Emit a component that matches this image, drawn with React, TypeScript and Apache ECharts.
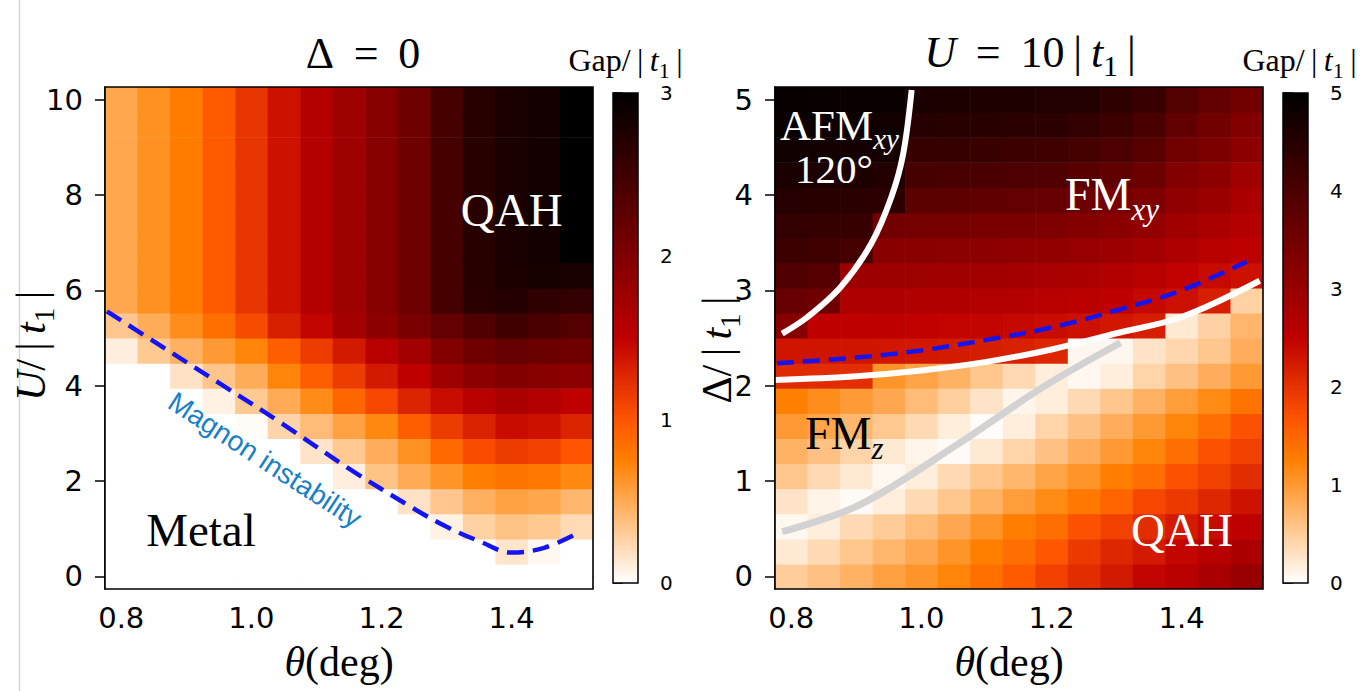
import React, { useEffect, useRef } from "react";
import * as echarts from "echarts";

// ---------- data ----------
const THETA = [0.8, 0.85, 0.9, 0.95, 1.0, 1.05, 1.1, 1.15, 1.2, 1.25, 1.3, 1.35, 1.4, 1.45, 1.5];
const U_ROWS = [0, 0.526, 1.053, 1.579, 2.105, 2.632, 3.158, 3.684, 4.211, 4.737, 5.263, 5.789, 6.316, 6.842, 7.368, 7.895, 8.421, 8.947, 9.474, 10];
const DELTA_ROWS = [0, 0.263, 0.526, 0.789, 1.053, 1.316, 1.579, 1.842, 2.105, 2.368, 2.632, 2.895, 3.158, 3.421, 3.684, 3.947, 4.211, 4.474, 4.737, 5];

// Gap/|t1| for Delta = 0 ; rows = U_ROWS (bottom to top), columns = THETA
const GAP_LEFT = [
  [0, 0, 0, 0, 0, 0, 0, 0, 0, 0, 0, 0, 0, 0, 0],
  [0, 0, 0, 0, 0, 0, 0, 0, 0, 0, 0, 0, 0.15, 0.04, 0],
  [0, 0, 0, 0, 0, 0, 0, 0, 0, 0, 0.08, 0.27, 0.36, 0.32, 0.22],
  [0, 0, 0, 0, 0, 0, 0, 0, 0, 0.17, 0.33, 0.47, 0.55, 0.53, 0.43],
  [0, 0, 0, 0, 0, 0, 0, 0.1, 0.36, 0.5, 0.63, 0.76, 0.82, 0.79, 0.7],
  [0, 0, 0, 0, 0, 0, 0.16, 0.32, 0.48, 0.65, 0.88, 1.05, 1.15, 1.12, 1.0],
  [0, 0, 0, 0, 0.02, 0.25, 0.4, 0.55, 0.7, 0.95, 1.15, 1.3, 1.43, 1.4, 1.28],
  [0, 0, 0, 0.08, 0.32, 0.5, 0.68, 0.9, 1.08, 1.28, 1.43, 1.56, 1.67, 1.6, 1.5],
  [0, 0, 0.17, 0.34, 0.49, 0.72, 0.95, 1.15, 1.35, 1.5, 1.75, 1.9, 1.98, 1.94, 1.9],
  [0.1, 0.32, 0.46, 0.6, 0.72, 0.95, 1.15, 1.35, 1.55, 1.72, 1.98, 2.12, 2.22, 2.16, 2.12],
  [0.33, 0.49, 0.67, 0.85, 1.06, 1.31, 1.47, 1.71, 1.9, 2.06, 2.22, 2.37, 2.49, 2.41, 2.33],
  [0.52, 0.65, 0.77, 0.97, 1.18, 1.4, 1.59, 1.75, 1.94, 2.14, 2.45, 2.66, 2.72, 2.62, 2.6],
  [0.52, 0.65, 0.77, 0.97, 1.18, 1.4, 1.59, 1.75, 1.94, 2.14, 2.45, 2.69, 2.78, 2.82, 2.8],
  [0.52, 0.65, 0.77, 0.97, 1.18, 1.4, 1.59, 1.75, 1.94, 2.14, 2.45, 2.69, 2.8, 2.86, 3.05],
  [0.52, 0.65, 0.77, 0.97, 1.18, 1.4, 1.59, 1.75, 1.94, 2.14, 2.45, 2.69, 2.8, 2.86, 3.05],
  [0.52, 0.65, 0.77, 0.97, 1.18, 1.4, 1.59, 1.75, 1.94, 2.14, 2.45, 2.69, 2.8, 2.86, 3.05],
  [0.52, 0.65, 0.77, 0.97, 1.18, 1.4, 1.59, 1.75, 1.94, 2.14, 2.45, 2.69, 2.8, 2.86, 3.05],
  [0.52, 0.65, 0.77, 0.97, 1.18, 1.4, 1.59, 1.75, 1.94, 2.14, 2.45, 2.69, 2.8, 2.86, 3.05],
  [0.52, 0.65, 0.77, 0.97, 1.18, 1.4, 1.59, 1.75, 1.94, 2.14, 2.45, 2.69, 2.8, 2.86, 3.05],
  [0.52, 0.65, 0.77, 0.97, 1.18, 1.4, 1.59, 1.75, 1.94, 2.14, 2.45, 2.69, 2.8, 2.86, 3.05],
];

// Gap/|t1| for U = 10|t1| ; rows = DELTA_ROWS (bottom to top), columns = THETA
const GAP_RIGHT = [
  [0.49, 0.61, 0.76, 0.92, 1.05, 1.2, 1.4, 1.62, 1.86, 2.06, 2.25, 2.45, 2.6, 2.8, 3.04],
  [0.22, 0.37, 0.56, 0.71, 0.86, 1.05, 1.25, 1.42, 1.65, 1.93, 2.12, 2.25, 2.45, 2.58, 2.78],
  [0.07, 0.17, 0.37, 0.51, 0.66, 0.86, 1.05, 1.27, 1.42, 1.7, 1.86, 2.06, 2.25, 2.39, 2.52],
  [0.27, 0.12, 0.05, 0.17, 0.37, 0.56, 0.76, 0.96, 1.15, 1.32, 1.52, 1.8, 1.93, 2.12, 2.32],
  [0.56, 0.37, 0.22, 0.07, 0.17, 0.37, 0.56, 0.71, 0.9, 1.05, 1.27, 1.42, 1.7, 1.86, 2.06],
  [0.76, 0.61, 0.42, 0.22, 0.1, 0.05, 0.22, 0.42, 0.61, 0.8, 1.0, 1.2, 1.42, 1.7, 1.86],
  [1.0, 0.88, 0.71, 0.54, 0.37, 0.17, 0.03, 0.17, 0.42, 0.61, 0.8, 1.0, 1.2, 1.42, 1.7],
  [1.25, 1.12, 0.98, 0.86, 0.66, 0.47, 0.27, 0.1, 0.17, 0.37, 0.56, 0.76, 0.96, 1.15, 1.37],
  [2.08, 2.07, 2.05, 1.05, 0.9, 0.76, 0.56, 0.37, 0.17, 0.07, 0.17, 0.42, 0.61, 0.8, 1.0],
  [2.3, 2.3, 2.29, 2.28, 2.26, 2.24, 2.22, 2.18, 2.12, 0.08, 0.08, 0.27, 0.4, 0.56, 0.8],
  [3.25, 2.52, 2.51, 2.5, 2.49, 2.47, 2.45, 2.42, 2.38, 2.33, 2.27, 2.2, 0.22, 0.45, 0.72],
  [3.65, 3.55, 2.72, 2.71, 2.7, 2.68, 2.66, 2.63, 2.6, 2.55, 2.5, 2.42, 2.35, 2.2, 0.45],
  [3.95, 3.9, 2.95, 2.94, 2.92, 2.9, 2.88, 2.85, 2.8, 2.75, 2.67, 2.58, 2.48, 2.4, 2.33],
  [4.2, 4.15, 4.1, 3.22, 3.2, 3.18, 3.16, 3.13, 3.08, 3.02, 2.95, 2.85, 2.72, 2.6, 2.5],
  [4.35, 4.32, 4.3, 3.5, 3.48, 3.46, 3.43, 3.4, 3.35, 3.28, 3.2, 3.08, 2.91, 2.78, 2.65],
  [4.5, 4.48, 4.45, 4.42, 3.8, 3.78, 3.75, 3.7, 3.65, 3.57, 3.47, 3.35, 3.1, 2.97, 2.78],
  [4.65, 4.63, 4.6, 4.56, 4.08, 4.06, 4.03, 4.0, 3.95, 3.85, 3.75, 3.6, 3.3, 3.17, 2.91],
  [4.78, 4.76, 4.74, 4.72, 4.3, 4.28, 4.26, 4.22, 4.18, 4.1, 4.0, 3.85, 3.52, 3.38, 3.17],
  [4.85, 4.83, 4.81, 4.78, 4.5, 4.48, 4.47, 4.45, 4.42, 4.35, 4.22, 4.05, 3.72, 3.52, 3.3],
  [4.9, 4.88, 4.87, 4.85, 4.66, 4.63, 4.61, 4.6, 4.58, 4.54, 4.4, 4.25, 3.92, 3.72, 3.5],
];

// phase-boundary curves  [theta, value]
const MAGNON_LINE = [[0.778, 5.56], [0.85, 4.93], [0.95, 4.06], [1.05, 3.18], [1.15, 2.26], [1.25, 1.42], [1.3, 1.04], [1.35, 0.74], [1.4, 0.5], [1.45, 0.6], [1.5, 0.9]];
const RIGHT_DASHED = [[0.778, 2.235], [0.9, 2.295], [1.0, 2.37], [1.1, 2.48], [1.2, 2.61], [1.3, 2.79], [1.4, 3.0], [1.5, 3.3]];
const FM_BOUNDARY = [[0.775, 2.06], [0.9, 2.1], [1.0, 2.16], [1.1, 2.25], [1.2, 2.38], [1.3, 2.55], [1.4, 2.72], [1.52, 3.1]];
const AFM_BOUNDARY = [[0.786, 2.545], [0.825, 2.72], [0.876, 3.035], [0.923, 3.49], [0.954, 3.98], [0.972, 4.43], [0.985, 5.1]];
const GRAY_LINE = [[0.786, 0.47], [0.905, 0.75], [1.059, 1.4], [1.188, 1.99], [1.306, 2.45]];

const X_TICKS = [0.8, 1.0, 1.2, 1.4];
const U_TICKS = [0, 2, 4, 6, 8, 10];
const DELTA_TICKS = [0, 1, 2, 3, 4, 5];
const GAP_MAX_LEFT = 3;
const GAP_MAX_RIGHT = 5;

// ---------- layout / style ----------
const SERIF = "'Liberation Serif', 'DejaVu Serif', serif";
const SANS = "'DejaVu Sans', sans-serif";
const GL = { left: 105, top: 87, width: 488, height: 502 };
const GR = { left: 775, top: 87, width: 488, height: 502 };
const CBL = { left: 613, top: 93, width: 25, height: 490 };
const CBR = { left: 1283, top: 93, width: 25, height: 490 };

function gistHeatR(t: number): string {
  const c = Math.max(0, Math.min(1, t));
  const x = 1 - c;
  const r = Math.min(1, 1.5 * x);
  const g = Math.max(0, Math.min(1, 2 * x - 1));
  const b = Math.max(0, Math.min(1, 4 * x - 3));
  return `rgb(${Math.round(r * 255)},${Math.round(g * 255)},${Math.round(b * 255)})`;
}
const CMAP_STOPS = [0, 0.25, 1 / 3, 0.5, 1].map((o) => ({ offset: o, color: gistHeatR(o) }));

function buildCells(xs: number[], ys: number[], m: number[][]) {
  const out: number[][] = [];
  m.forEach((row, j) => row.forEach((v, i) => out.push([xs[i], ys[j], v])));
  return out;
}

const cellRenderer = (dx: number, dy: number, vmax: number) => (_p: any, api: any) => {
  const x = api.value(0);
  const y = api.value(1);
  const v = api.value(2);
  const a = api.coord([x - dx / 2, y + dy / 2]);
  const b = api.coord([x + dx / 2, y - dy / 2]);
  return {
    type: "rect",
    shape: { x: a[0], y: a[1], width: b[0] - a[0] + 0.6, height: b[1] - a[1] + 0.6 },
    style: { fill: gistHeatR(v / vmax) },
  };
};

const colorbarRenderer = (vmax: number) => (_p: any, api: any) => {
  const a = api.coord([0, vmax]);
  const b = api.coord([1, 0]);
  return {
    type: "rect",
    shape: { x: a[0], y: a[1], width: b[0] - a[0], height: b[1] - a[1] },
    style: {
      fill: { type: "linear", x: 0, y: 1, x2: 0, y2: 0, colorStops: CMAP_STOPS },
      stroke: "#000",
      lineWidth: 1.5,
    },
  };
};

const tickStyle = { color: "#000", width: 1.5 };

function mainX(gi: number) {
  return {
    gridIndex: gi,
    type: "value",
    min: 0.775,
    max: 1.525,
    axisLine: { show: true, lineStyle: tickStyle },
    axisTick: { show: true, length: 10, customValues: X_TICKS, lineStyle: tickStyle },
    axisLabel: {
      show: true,
      customValues: X_TICKS,
      formatter: (v: number) => v.toFixed(1),
      color: "#000",
      fontFamily: SANS,
      fontSize: 29,
      margin: 14,
    },
    splitLine: { show: false },
  };
}
function mainY(gi: number, min: number, max: number, ticks: number[]) {
  return {
    gridIndex: gi,
    type: "value",
    min,
    max,
    axisLine: { show: true, lineStyle: tickStyle },
    axisTick: { show: true, length: 10, customValues: ticks, lineStyle: tickStyle },
    axisLabel: {
      show: true,
      customValues: ticks,
      formatter: (v: number) => String(Math.round(v)),
      color: "#000",
      fontFamily: SANS,
      fontSize: 29,
      margin: 22,
    },
    splitLine: { show: false },
  };
}
function cbY(gi: number, max: number) {
  return {
    gridIndex: gi,
    type: "value",
    min: 0,
    max,
    interval: 1,
    position: "right",
    axisLine: { show: false },
    axisTick: { show: true, length: 10, lineStyle: tickStyle },
    axisLabel: { color: "#000", fontFamily: SANS, fontSize: 20, margin: 22 },
    splitLine: { show: false },
  };
}

function lineSeries(axis: number, data: number[][], color: string, width: number, dash?: number[]) {
  return {
    type: "line",
    xAxisIndex: axis,
    yAxisIndex: axis,
    data,
    smooth: 0.35,
    symbol: "none",
    showSymbol: false,
    silent: true,
    clip: true,
    z: 3,
    lineStyle: { color, width, type: dash ? dash : "solid", cap: "butt" },
  };
}

function buildOption() {
  const gridBase = { containLabel: false, outerBoundsMode: "none", show: false };
  return {
    animation: false,
    backgroundColor: "#fff",
    grid: [
      { ...gridBase, ...GL },
      { ...gridBase, ...GR },
      { ...gridBase, ...CBL },
      { ...gridBase, ...CBR },
    ],
    xAxis: [
      mainX(0),
      mainX(1),
      { gridIndex: 2, type: "value", min: 0, max: 1, show: false },
      { gridIndex: 3, type: "value", min: 0, max: 1, show: false },
    ],
    yAxis: [
      mainY(0, -0.2632, 10.2632, U_TICKS),
      mainY(1, -0.1316, 5.1316, DELTA_TICKS),
      cbY(2, GAP_MAX_LEFT),
      cbY(3, GAP_MAX_RIGHT),
    ],
    series: [
      {
        type: "custom",
        xAxisIndex: 0,
        yAxisIndex: 0,
        clip: true,
        silent: true,
        z: 1,
        data: buildCells(THETA, U_ROWS, GAP_LEFT),
        renderItem: cellRenderer(0.05, 10 / 19, GAP_MAX_LEFT),
      },
      {
        type: "custom",
        xAxisIndex: 1,
        yAxisIndex: 1,
        clip: true,
        silent: true,
        z: 1,
        data: buildCells(THETA, DELTA_ROWS, GAP_RIGHT),
        renderItem: cellRenderer(0.05, 5 / 19, GAP_MAX_RIGHT),
      },
      lineSeries(0, MAGNON_LINE, "#1414f0", 4.5, [17, 9]),
      lineSeries(1, GRAY_LINE, "#d2d2d2", 7),
      lineSeries(1, FM_BOUNDARY, "#ffffff", 6),
      lineSeries(1, RIGHT_DASHED, "#1414f0", 4.5, [17, 9]),
      lineSeries(1, AFM_BOUNDARY, "#ffffff", 6),
      {
        type: "custom",
        xAxisIndex: 2,
        yAxisIndex: 2,
        silent: true,
        data: [[0, 0]],
        renderItem: colorbarRenderer(GAP_MAX_LEFT),
      },
      {
        type: "custom",
        xAxisIndex: 3,
        yAxisIndex: 3,
        silent: true,
        data: [[0, 0]],
        renderItem: colorbarRenderer(GAP_MAX_RIGHT),
      },
    ],
  };
}

function mathRich(size: number, color: string) {
  const sub = Math.round(size * 0.68);
  const H = Math.round(1.08 * size + 0.32 * sub);
  return {
    r: { fontFamily: SERIF, fontSize: size, lineHeight: H, fill: color, color },
    i: { fontFamily: SERIF, fontSize: size, fontStyle: "italic", lineHeight: H, fill: color, color },
    s: { fontFamily: SERIF, fontSize: sub, lineHeight: sub, verticalAlign: "bottom", fill: color, color },
    si: { fontFamily: SERIF, fontSize: sub, fontStyle: "italic", lineHeight: sub, verticalAlign: "bottom", fill: color, color },
  };
}

function textEl(x: number, y: number, text: string, size: number, color: string, align = "center", rotation = 0) {
  return {
    type: "text",
    x,
    y,
    rotation,
    z: 50,
    silent: true,
    style: {
      text,
      align,
      verticalAlign: "middle",
      fontFamily: SERIF,
      fontSize: size,
      fill: color,
      rich: mathRich(size, color),
    },
  };
}

const T = "\u2009";

function buildGraphics(toL: (p: number[]) => number[], toR: (p: number[]) => number[]) {
  const els: any[] = [];
  // faint page edge line
  els.push({ type: "line", silent: true, z: 0, shape: { x1: 19.5, y1: 0, x2: 19.5, y2: 691 }, style: { stroke: "#d6d6d6", lineWidth: 1.5 } });
  // axes frames
  [GL, GR].forEach((g) =>
    els.push({
      type: "rect",
      silent: true,
      z: 100,
      shape: { x: g.left, y: g.top, width: g.width, height: g.height },
      style: { fill: "none", stroke: "#000", lineWidth: 1.6 },
    })
  );
  // titles
  els.push(textEl(GL.left + GL.width / 2 + 14, 53, `{r|Δ${T} = ${T}0}`, 44, "#000"));
  els.push(textEl(GR.left + GR.width / 2 + 11, 52, `{i|U}{r|${T} = ${T}10${T}|${T}}{i|t}{s|1}{r|${T}|}`, 44, "#000"));
  els.push(textEl(CBL.left + CBL.width / 2, 60, `{r|Gap/${T}|${T}}{i|t}{s|1}{r|${T}|}`, 32, "#000"));
  els.push(textEl(CBR.left + CBR.width / 2 + 4, 60, `{r|Gap/${T}|${T}}{i|t}{s|1}{r|${T}|}`, 32, "#000"));
  // axis names
  els.push(textEl(31, GL.top + GL.height / 2 + 8, `{i|U}{r|/${T}|${T}}{i|t}{s|1}{r|${T}|}`, 42, "#000", "center", Math.PI / 2));
  els.push(textEl(717, GR.top + GR.height / 2 + 12, `{r|Δ/${T}|${T}}{i|t}{s|1}{r|${T}|}`, 42, "#000", "center", Math.PI / 2));
  els.push(textEl(GL.left + GL.width / 2 - 10, 662, "{i|θ}{r|(deg)}", 42, "#000"));
  els.push(textEl(GR.left + GR.width / 2 - 10, 662, "{i|θ}{r|(deg)}", 42, "#000"));

  // left panel annotations
  const qL = toL([1.4, 7.684]);
  els.push(textEl(qL[0], qL[1], "{r|QAH}", 47, "#fff"));
  const mL = toL([0.9225, 0.974]);
  els.push(textEl(mL[0], mL[1], "{r|Metal}", 47, "#000"));
  const mg = toL([1.021, 2.442]);
  els.push({
    type: "text",
    x: mg[0],
    y: mg[1],
    rotation: -33 * Math.PI / 180,
    z: 50,
    silent: true,
    style: { text: "Magnon instability", align: "center", verticalAlign: "middle", fontFamily: "'Liberation Sans', Arial, sans-serif", fontSize: 28, fill: "#1a7fc4" },
  });

  // right panel annotations
  const afm = toR([0.7827, 4.723]);
  els.push(textEl(afm[0], afm[1], "{r|AFM}{si|xy}", 43, "#fff", "left"));
  const deg = toR([0.8657, 4.272]);
  els.push(textEl(deg[0], deg[1], "{r|120°}", 41, "#fff"));
  const fmxy = toR([1.2207, 4.0]);
  els.push(textEl(fmxy[0], fmxy[1], "{r|FM}{si|xy}", 46, "#fff", "left"));
  const fmz = toR([0.8211, 1.4935]);
  els.push(textEl(fmz[0], fmz[1], "{r|FM}{si|z}", 46, "#000", "left"));
  const qR = toR([1.4005, 0.487]);
  els.push(textEl(qR[0], qR[1], "{r|QAH}", 47, "#fff"));
  return els;
}

export default function App() {
  const ref = useRef<HTMLDivElement>(null);
  useEffect(() => {
    const el = ref.current;
    if (!el) return;
    const chart = echarts.init(el, null, { renderer: "svg" });
    chart.setOption(buildOption() as any);
    const toL = (p: number[]) => chart.convertToPixel({ gridIndex: 0 } as any, p) as number[];
    const toR = (p: number[]) => chart.convertToPixel({ gridIndex: 1 } as any, p) as number[];
    chart.setOption({ graphic: { elements: buildGraphics(toL, toR) } } as any);
    return () => chart.dispose();
  }, []);
  return (
    <div
      ref={ref}
      style={{ position: "fixed", left: 0, top: 0, width: 1370, height: 691, background: "#fff" }}
    />
  );
}
